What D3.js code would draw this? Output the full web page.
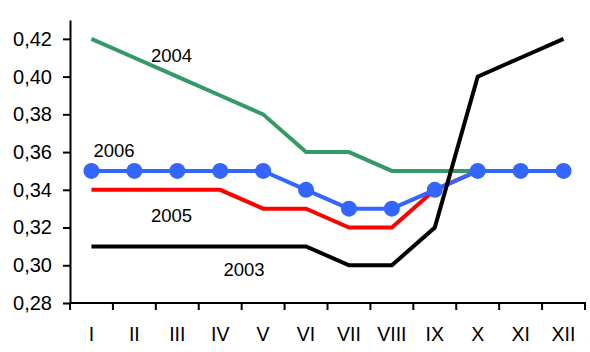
<!DOCTYPE html>
<html>
<head>
<meta charset="utf-8">
<script src="https://cdn.jsdelivr.net/npm/d3@7/dist/d3.min.js"></script>
<style>
  body { margin: 0; background: #fff; }
  svg { display: block; font-family: "Liberation Sans", Arial, sans-serif; }
</style>
</head>
<body>
<svg id="chart" width="590" height="352"></svg>
<script>
// Monthly values per year
const months = ["I", "II", "III", "IV", "V", "VI", "VII", "VIII", "IX", "X", "XI", "XII"];
const yTicks = [0.28, 0.30, 0.32, 0.34, 0.36, 0.38, 0.40, 0.42];
const v2003 = [0.31, 0.31, 0.31, 0.31, 0.31, 0.31, 0.30, 0.30, 0.32, 0.40, 0.41, 0.42];
const v2004 = [0.42, 0.41, 0.40, 0.39, 0.38, 0.36, 0.36, 0.35, 0.35, 0.35, 0.35, 0.35];
const v2005 = [0.34, 0.34, 0.34, 0.34, 0.33, 0.33, 0.32, 0.32, 0.34, 0.35, 0.35, 0.35];
const v2006 = [0.35, 0.35, 0.35, 0.35, 0.35, 0.34, 0.33, 0.33, 0.34, 0.35, 0.35, 0.35];

const series = [
  { name: "2004", values: v2004, color: "#339966", label: [171.5, 62] },
  { name: "2005", values: v2005, color: "#ff0000", label: [171.5, 222] },
  { name: "2006", values: v2006, color: "#3366ff", label: [114, 157], markers: true },
  { name: "2003", values: v2003, color: "#000000", label: [244, 276] }
];

const svg = d3.select("#chart");
const mLeft = 70, mRight = 585, mTop = 20, mBottom = 303;

const x = d3.scaleBand().domain(months).range([mLeft, mRight]);
const y = d3.scaleLinear().domain([0.28, 0.43]).range([mBottom, mTop]);
const fmt = d => d3.format(".2f")(d).replace(".", ",");

// Y axis
const yAxis = svg.append("g")
  .attr("transform", `translate(${mLeft},0)`)
  .call(d3.axisLeft(y).tickValues(yTicks).tickFormat(fmt).tickSize(7).tickPadding(11).tickSizeOuter(0))
  .attr("font-family", "Liberation Sans, Arial, sans-serif")
  .attr("font-size", 20);
yAxis.select(".domain").attr("stroke", "#000").attr("stroke-width", 2);
yAxis.selectAll(".tick line").attr("stroke-width", 2);
yAxis.selectAll("text").attr("fill", "#000");

// X axis with boundary ticks between categories
const xg = svg.append("g").attr("transform", `translate(0,${mBottom})`);
xg.append("line").attr("x1", mLeft).attr("x2", mRight + 1).attr("stroke", "#000").attr("stroke-width", 2);
const bounds = months.map(m => x(m)).concat([mRight]);
xg.selectAll("line.bt").data(bounds).join("line")
  .attr("class", "bt")
  .attr("x1", d => d).attr("x2", d => d)
  .attr("y1", 0).attr("y2", 7)
  .attr("stroke", "#000").attr("stroke-width", 2);
xg.selectAll("text").data(months).join("text")
  .attr("x", d => x(d) + x.bandwidth() / 2)
  .attr("y", 38)
  .attr("text-anchor", "middle")
  .attr("font-size", 19.5)
  .text(d => d);

const cx = i => x(months[i]) + x.bandwidth() / 2;
const line = d3.line().x((d, i) => cx(i)).y(d => y(d));

series.forEach(s => {
  svg.append("path")
    .attr("d", line(s.values))
    .attr("fill", "none")
    .attr("stroke", s.color)
    .attr("stroke-width", 4)
    .attr("stroke-linejoin", "miter");
  if (s.markers) {
    svg.selectAll(null).data(s.values).join("circle")
      .attr("cx", (d, i) => cx(i))
      .attr("cy", d => y(d))
      .attr("r", 8)
      .attr("fill", s.color);
  }
  svg.append("text")
    .attr("x", s.label[0]).attr("y", s.label[1])
    .attr("text-anchor", "middle")
    .attr("font-size", 18.5)
    .text(s.name);
});
</script>
</body>
</html>
